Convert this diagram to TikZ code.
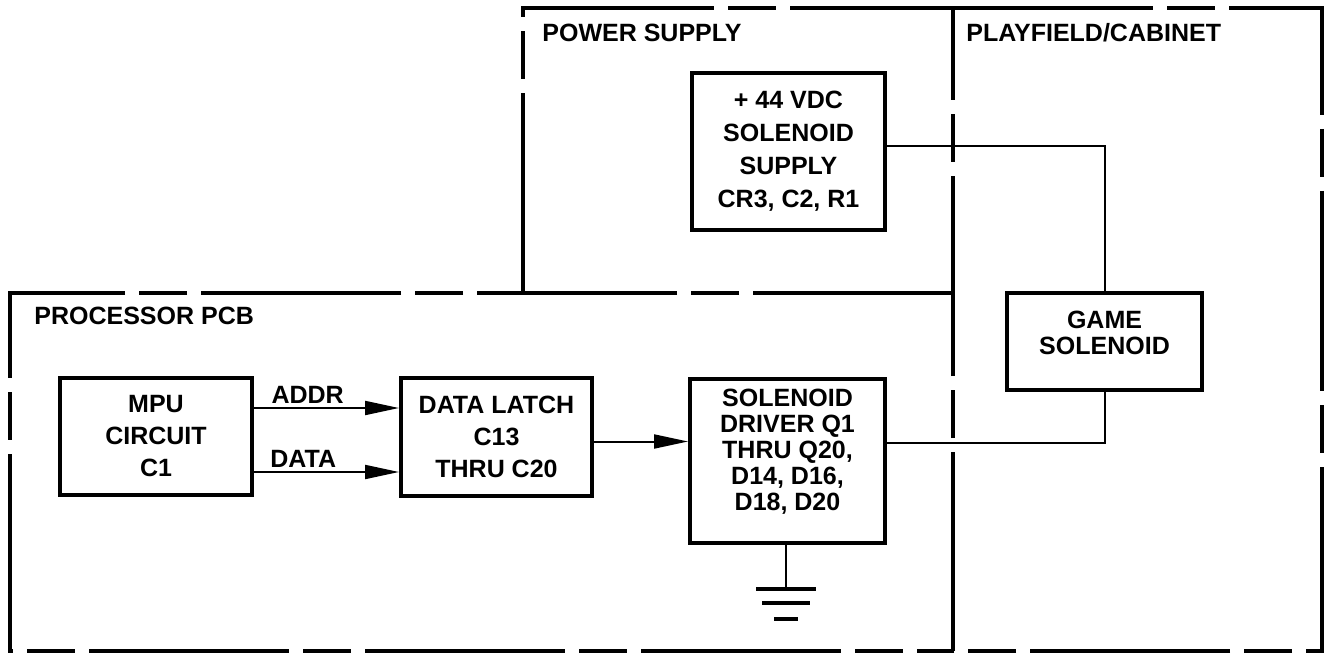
\documentclass[tikz,border=0pt]{standalone}
\usepackage{fontspec}
\setmainfont{Liberation Sans}
\usetikzlibrary{arrows.meta,positioning}
\tikzset{
  region/.style = {line width=2pt, dash pattern=on 100pt off 7pt on 24pt off 7pt},
  blk/.style    = {rectangle, draw, line width=2pt, align=center, inner sep=2pt,
                   font=\fontsize{12.5}{16}\selectfont\bfseries},
  blkt/.style   = {blk, font=\fontsize{12.5}{13}\selectfont\bfseries},
  wire/.style   = {line width=1pt},
  fl/.style     = {-{Triangle[length=17pt,width=7pt]}, line width=1pt},
  lbl/.style    = {font=\fontsize{12.5}{15}\selectfont\bfseries, inner sep=2pt},
  hdr/.style    = {lbl, anchor=west},
  gndbar/.style = {line width=2pt},
}
\begin{document}
\begin{tikzpicture}[x=0.5pt, y=-0.5pt]
\useasboundingbox (0,0) rectangle (1331,657);
% boundaries
\draw[region] (953,293) -- (10,293) -- (10,651) -- (953,651);
\draw[region] (523,293) -- (523,8) -- (953,8);
\draw[region] (953,8) -- (1322,8) -- (1322,651) -- (953,651) -- cycle;
\node[hdr] (pcb)  at (30,316)  {PROCESSOR PCB};
\node[hdr] (psu)  at (538,33)  {POWER SUPPLY};
\node[hdr] (cab)  at (962,33)  {PLAYFIELD/CABINET};
% blocks
\node[blk, minimum width=96pt, minimum height=58.5pt] (mpu) at (156,436.5) {MPU\\CIRCUIT\\C1};
\node[blk, minimum width=95.5pt, minimum height=59pt, right=72.5pt of mpu] (latch) {DATA LATCH\\C13\\THRU C20};
\node[blkt, minimum width=97.5pt, minimum height=82pt] (driver) at (787.5,461)
  {SOLENOID\\DRIVER Q1\\THRU Q20,\\D14, D16,\\D18, D20\\[-2pt]\mbox{}};
\node[blk, minimum width=96.5pt, minimum height=78.5pt, font=\fontsize{12.5}{16.5}\selectfont\bfseries] (supply) at (788.5,151.5)
  {+ 44 VDC\\SOLENOID\\SUPPLY\\CR3, C2, R1};
\node[blkt, minimum width=97.5pt, minimum height=48.5pt] (game) at (1104.5,341.5) {GAME\\SOLENOID\\[-4pt]\mbox{}};
% signals
\draw[fl] ([yshift=14.25pt]mpu.east) coordinate (a0) -- (a0 -| latch.west) node[lbl, above, pos=0.37] {ADDR};
\draw[fl] ([yshift=-17.75pt]mpu.east) coordinate (d0) -- (d0 -| latch.west) node[lbl, above, pos=0.34] {DATA};
\draw[fl] ([yshift=-2.5pt]latch.east) coordinate (l0) -- (l0 -| driver.west);
\draw[wire] ([yshift=2.75pt]supply.east) -| (game.north);
\draw[wire] ([yshift=9pt]driver.east) -| (game.south);
% ground
\draw[wire] ([xshift=-0.75pt]driver.south) -- ++(0,44) coordinate (gnd);
\draw[gndbar] ([xshift=-15pt]gnd) -- ([xshift=15pt]gnd);
\draw[gndbar] ([xshift=-12pt,yshift=-7pt]gnd) -- ([xshift=12pt,yshift=-7pt]gnd);
\draw[gndbar] ([xshift=-6pt,yshift=-15pt]gnd) -- ([xshift=6pt,yshift=-15pt]gnd);
\end{tikzpicture}
\end{document}
